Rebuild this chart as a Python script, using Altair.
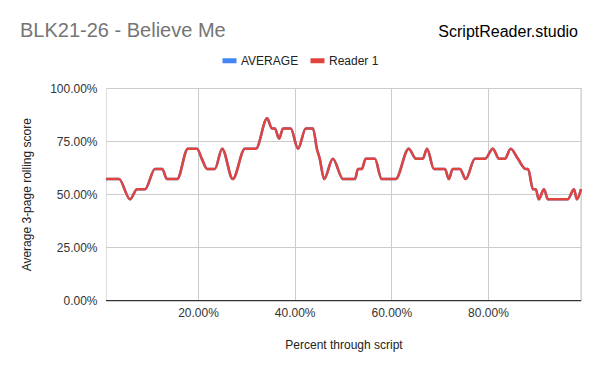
import altair as alt
import pandas as pd

# Percent through script (fraction) and 3-page rolling score (fraction)
x_pct = [0.97, 3.66, 5.94, 7.38, 9.04, 11.1, 12.6, 13.6, 15.7, 17.9, 19.8, 20.8,
         21.9, 23.5, 25.0, 27.2, 29.7, 32.0, 34.3, 35.3, 35.9, 36.8, 37.6, 39.2,
         40.7, 42.3, 43.8, 44.6, 45.2, 46.1, 47.9, 50.0, 52.5, 53.1, 53.9, 54.7,
         56.6, 58.0, 60.9, 63.6, 65.1, 66.5, 67.4, 68.8, 71.1, 71.9, 72.7, 74.2,
         75.4, 77.3, 79.4, 81.0, 82.3, 83.5, 84.7, 86.2, 87.8, 88.3, 89.3, 89.9,
         90.5, 91.6, 92.4, 96.5, 97.8, 98.4, 99.25]
score_21 = [12, 12, 10, 11, 11, 13, 13, 12, 12, 15, 15, 14,
            13, 13, 15, 12, 15, 15, 18, 17, 17, 16, 17, 17,
            15, 17, 17, 15, 14, 12, 14, 12, 12, 13, 13, 14,
            14, 12, 12, 15, 14, 14, 15, 13, 13, 12, 13, 13,
            12, 14, 14, 15, 14, 14, 15, 14, 13, 13, 11, 11,
            10, 11, 10, 10, 11, 10, 11]

series_names = ["AVERAGE", "Reader 1"]
series_colors = ["#4285f4", "#e0443c"]
x_ticks = [0.2, 0.4, 0.6, 0.8]
y_ticks = [0, 0.25, 0.5, 0.75, 1.0]

xs = [v / 100 for v in x_pct]
ys = [s / 21 for s in score_21]

avg_df = pd.DataFrame({"x": xs, "y": ys, "series": "AVERAGE"})
r1_df = pd.DataFrame({"x": xs, "y": ys, "series": "Reader 1"})

FONT = "Liberation Sans"

x_enc = alt.X("x:Q",
              scale=alt.Scale(domain=[min(xs), max(xs)], nice=False, zero=False),
              axis=alt.Axis(values=x_ticks, format=".2%", title="Percent through script",
                            grid=True, gridColor="#cccccc", domain=False, ticks=False,
                            labelPadding=7, titlePadding=21, labelFontSize=12,
                            titleFontSize=12, labelColor="#333333", titleColor="#222222",
                            titleFontWeight="normal", labelFont=FONT, titleFont=FONT))
y_enc = alt.Y("y:Q",
              scale=alt.Scale(domain=[0, 1], nice=False),
              axis=alt.Axis(values=y_ticks, format=".2%", title="Average 3-page rolling score",
                            grid=True, gridColor="#cccccc", domain=False, ticks=False,
                            labelPadding=9, titlePadding=16, labelFontSize=12,
                            titleFontSize=12, labelColor="#333333", titleColor="#222222",
                            titleFontWeight="normal", labelFont=FONT, titleFont=FONT))
color_enc = alt.Color("series:N",
                      scale=alt.Scale(domain=series_names, range=series_colors),
                      legend=alt.Legend(title=None, orient="none", direction="horizontal",
                                        legendX=114, legendY=-37,
                                        symbolType="stroke", symbolSize=196,
                                        symbolStrokeWidth=5,
                                        labelFontSize=12, labelFont=FONT,
                                        labelColor="#222222", columnPadding=1,
                                        labelOffset=2))

avg_line = alt.Chart(avg_df).mark_line(interpolate="monotone", strokeWidth=2.5).encode(
    x=x_enc, y=y_enc, color=color_enc)
r1_line = alt.Chart(r1_df).mark_line(interpolate="monotone", strokeWidth=2.5).encode(
    x=x_enc, y=y_enc, color=color_enc)

edge_df = pd.DataFrame({"x": [max(xs)]})
edge = alt.Chart(edge_df).mark_rule(color="#cccccc", strokeWidth=1).encode(x="x:Q")
base_df = pd.DataFrame({"y": [0]})
baseline = alt.Chart(base_df).mark_rule(color="#333333", strokeWidth=1).encode(y="y:Q")

brand_df = pd.DataFrame({"t": ["ScriptReader.studio"]})
brand = alt.Chart(brand_df).mark_text(align="right", baseline="alphabetic", fontSize=16,
                                      font=FONT, color="#000000").encode(
    text="t:N", x=alt.value(472), y=alt.value(-51))

chart = alt.layer(edge, avg_line, r1_line, baseline, brand).properties(
    width=475, height=212.5,
    autosize=alt.AutoSizeParams(type="none"),
    padding={"left": 98, "top": 80, "right": 11, "bottom": 63},
    title=alt.TitleParams("BLK21-26 - Believe Me", anchor="start", frame="group",
                          dx=-86, dy=22, fontSize=20, font=FONT, color="#757575",
                          fontWeight="normal", offset=5),
).configure_view(stroke=None).configure(background="white")

chart.save("out.html", embed_options={"renderer": "svg", "actions": False})
